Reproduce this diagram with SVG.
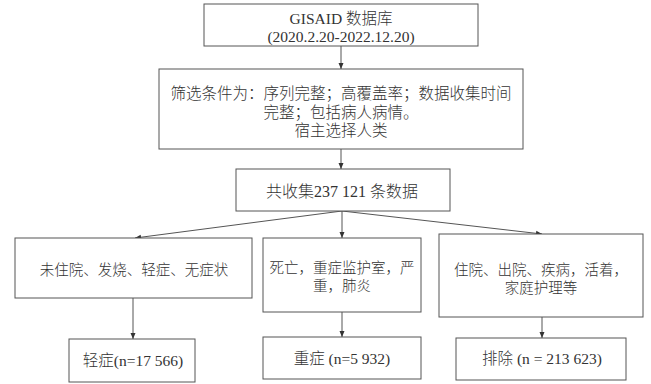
<svg xmlns="http://www.w3.org/2000/svg" width="651" height="384" viewBox="0 0 651 384">
<style>
.box{fill:#fff;stroke:#555;stroke-width:1}
.t{font-family:"Liberation Serif","Noto Sans CJK SC",serif;fill:#333;text-anchor:middle;font-weight:300}
.s{font-family:"Liberation Sans","Noto Sans CJK SC",sans-serif;fill:#333;text-anchor:middle;font-weight:300}
.c{fill:none;stroke:#555;stroke-width:1;marker-end:url(#ah)}
</style>
<defs>
<marker id="ah" viewBox="0 0 6 6" refX="6" refY="3" markerWidth="6" markerHeight="6" markerUnits="userSpaceOnUse" orient="auto">
<path d="M0,0.5 L6,3 L0,5.5 Z" fill="#333"/>
</marker>
</defs>
<rect width="651" height="384" fill="#fff"/>
<g id="connectors">
<line class="c" x1="341" y1="46" x2="341" y2="69"/>
<line class="c" x1="341" y1="149" x2="341" y2="169"/>
<line class="c" x1="342" y1="211" x2="135" y2="238"/>
<line class="c" x1="342" y1="211" x2="342" y2="238"/>
<line class="c" x1="342" y1="211" x2="542" y2="234"/>
<line class="c" x1="133" y1="298" x2="133" y2="339"/>
<line class="c" x1="342" y1="312" x2="342" y2="337"/>
<line class="c" x1="542" y1="317" x2="542" y2="338"/>
</g>
<g id="n1">
<rect class="box" x="204" y="4" width="274" height="42"/>
<text class="t" x="341" y="24" font-size="15.5">GISAID 数据库</text>
<text class="t" x="341" y="42" font-size="15.5">(2020.2.20-2022.12.20)</text>
</g>
<g id="n2">
<rect class="box" x="159" y="69" width="364" height="80"/>
<text class="s" x="341" y="99" font-size="15.5">筛选条件为：序列完整；高覆盖率；数据收集时间</text>
<text class="s" x="341" y="118" font-size="15.5">完整；包括病人病情。</text>
<text class="s" x="341" y="136" font-size="15.5">宿主选择人类</text>
</g>
<g id="n3">
<rect class="box" x="236" y="169" width="214" height="42"/>
<text class="t" x="342" y="197" font-size="16">共收集237 121 条数据</text>
</g>
<g id="n4">
<rect class="box" x="15" y="238" width="237" height="60"/>
<text class="s" x="134" y="275" font-size="14.5">未住院、发烧、轻症、无症状</text>
</g>
<g id="n5">
<rect class="box" x="263" y="238" width="158" height="74"/>
<text class="s" x="342" y="273" font-size="14.5">死亡，重症监护室，严</text>
<text class="s" x="342" y="291" font-size="14.5">重，肺炎</text>
</g>
<g id="n6">
<rect class="box" x="439" y="234" width="204" height="83"/>
<text class="s" x="541" y="275" font-size="14.5">住院、出院、疾病，活着，</text>
<text class="s" x="541" y="293" font-size="14.5">家庭护理等</text>
</g>
<g id="n7">
<rect class="box" x="69" y="339" width="126" height="43"/>
<text class="t" x="133" y="366" font-size="15.5">轻症(n=17 566)</text>
</g>
<g id="n8">
<rect class="box" x="263" y="337" width="158" height="42"/>
<text class="t" x="342" y="364" font-size="15.5">重症 (n=5 932)</text>
</g>
<g id="n9">
<rect class="box" x="456" y="338" width="170" height="42"/>
<text class="t" x="542" y="364" font-size="15.5">排除 (n = 213 623)</text>
</g>
</svg>
